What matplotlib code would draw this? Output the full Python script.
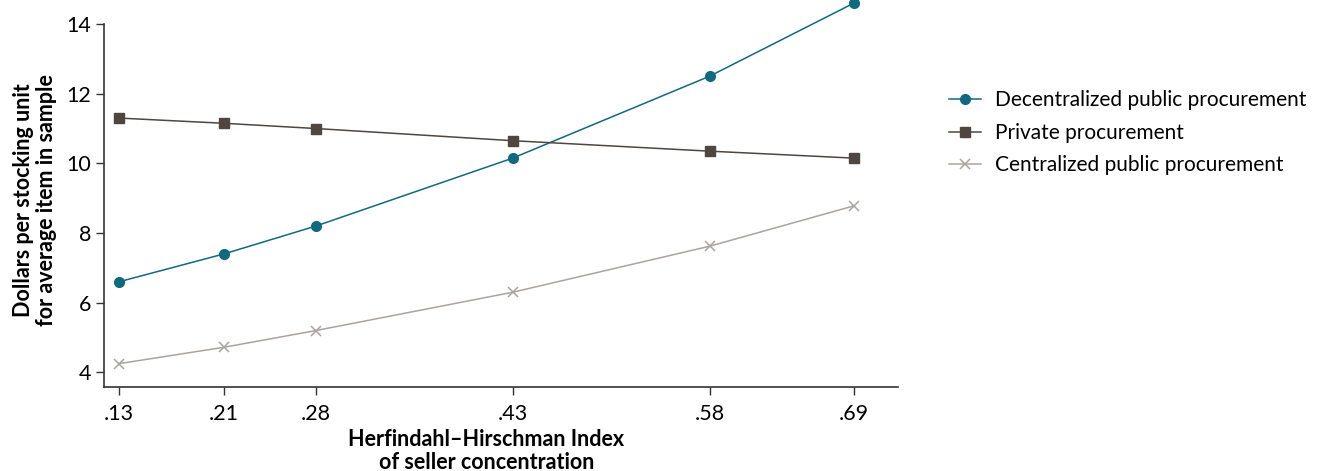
import matplotlib
matplotlib.use("Agg")
import matplotlib.pyplot as plt
import matplotlib.transforms as mtrans

plt.rcParams['font.family'] = ['Lato', 'DejaVu Sans']

hhi = [0.13, 0.21, 0.28, 0.43, 0.58, 0.69]
tick_labels = ['.13', '.21', '.28', '.43', '.58', '.69']
decentralized = [6.6, 7.4, 8.2, 10.15, 12.5, 14.6]
private = [11.3, 11.15, 11.0, 10.65, 10.35, 10.15]
centralized = [4.25, 4.72, 5.2, 6.3, 7.62, 8.78]
series_names = ['Decentralized public procurement', 'Private procurement',
                'Centralized public procurement']

fig = plt.figure(figsize=(13.18, 4.71), dpi=100)
ax = fig.add_axes([104/1318, 1-387/471, (898-104)/1318, (387-24)/471])

c_dec = '#0f6a80'
c_pri = '#4f4641'
c_cen = '#a9a4a1'

ax.plot(hhi, decentralized, color=c_dec, lw=1.1, marker='o', ms=7,
        label=series_names[0], clip_on=False, zorder=3)
ax.plot(hhi, private, color=c_pri, lw=1.1, marker='s', ms=7.5,
        label=series_names[1], clip_on=False, zorder=3)
ax.plot(hhi, centralized, color=c_cen, lw=1.1, marker='x', ms=7, mew=1.1,
        label=series_names[2], clip_on=False, zorder=3)

ax.set_xlim(0.1186, 0.7236)
ax.set_ylim(3.58, 14.0)
ax.set_xticks(hhi)
ax.set_xticklabels(tick_labels)
ax.set_yticks([4, 6, 8, 10, 12, 14])

for s in ['top', 'right']:
    ax.spines[s].set_visible(False)
for s in ['left', 'bottom']:
    ax.spines[s].set_color('#333333')
    ax.spines[s].set_linewidth(1.2)

ax.tick_params(axis='both', direction='out', length=6, width=1.0,
               color='#333333', labelsize=15.5, labelcolor='black')
ax.tick_params(axis='x', pad=6)
ax.tick_params(axis='y', pad=3)

fig.text(35/1318, 1-200/471,
         'Dollars per stocking unit\nfor average item in sample',
         fontsize=15.5, fontweight='bold', linespacing=1.1, rotation=90,
         ha='center', va='center', multialignment='center')

xmid = (0.13 + 0.69) / 2
ax.text(xmid, 1-451/471, 'Herfindahl–Hirschman Index\nof seller concentration',
        transform=mtrans.blended_transform_factory(ax.transData, fig.transFigure),
        fontsize=15.5, fontweight='bold', linespacing=1.1,
        ha='center', va='center', multialignment='center')

leg = fig.legend(loc='upper left', bbox_to_anchor=(941/1318, 1-82/471),
                 frameon=False, fontsize=15, handlelength=1.5,
                 handletextpad=0.7, labelspacing=0.6, borderaxespad=0)

fig.savefig('out.png', dpi=100)
